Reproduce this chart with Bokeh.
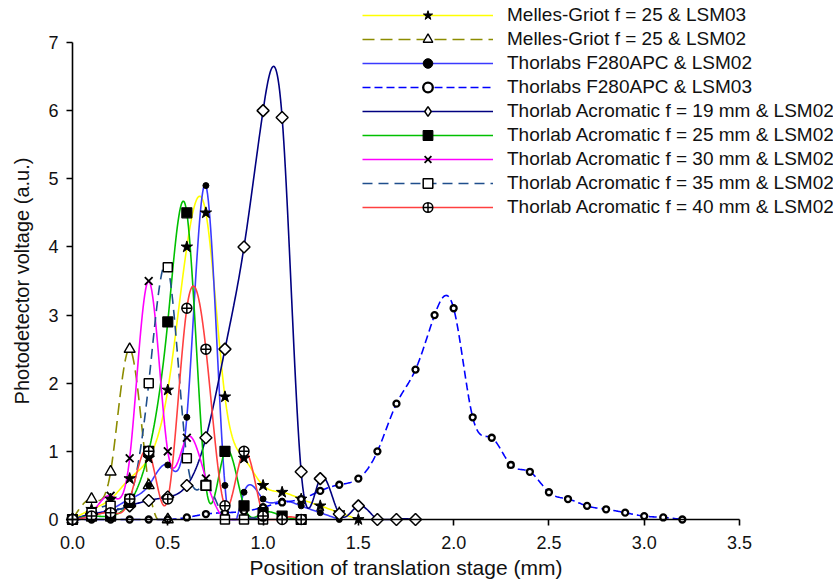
import numpy as np
from bokeh.plotting import figure
from bokeh.models import Range1d, FixedTicker, PrintfTickFormatter, Legend, LegendItem
from bokeh.embed import file_html
from bokeh.resources import INLINE

# ---------------- data ----------------
x_mg03 = [0.0, 0.1, 0.2, 0.3, 0.4, 0.5, 0.6, 0.7, 0.8, 0.9, 1.0, 1.1, 1.2, 1.3, 1.4, 1.5]
y_mg03 = [0.0, 0.15, 0.3, 0.6, 0.9, 1.9, 4.0, 4.5, 1.8, 0.9, 0.5, 0.4, 0.3, 0.2, 0.1, 0.0]

x_mg02 = [0.0, 0.1, 0.2, 0.3, 0.4, 0.5]
y_mg02 = [0.0, 0.3, 0.7, 2.5, 0.5, 0.0]

x_f280_02 = [0.0, 0.1, 0.2, 0.3, 0.4, 0.5, 0.6, 0.7, 0.8, 0.9, 1.0, 1.1, 1.2, 1.3, 1.4]
y_f280_02 = [0.0, 0.08, 0.15, 0.3, 0.5, 0.8, 1.5, 4.9, 0.5, 0.4, 0.3, 0.27, 0.2, 0.1, 0.0]

x_f280_03 = [0.0, 0.1, 0.2, 0.3, 0.4, 0.5, 0.6, 0.7, 0.8, 0.9, 1.0, 1.1, 1.2, 1.3, 1.4, 1.5,
             1.6, 1.7, 1.8, 1.9, 2.0, 2.1, 2.2, 2.3, 2.4, 2.5, 2.6, 2.7, 2.8, 2.9, 3.0, 3.1, 3.2]
y_f280_03 = [0.0, 0.0, 0.0, 0.0, 0.0, 0.0, 0.03, 0.08, 0.1, 0.12, 0.18, 0.25, 0.3, 0.42, 0.51, 0.6,
             1.0, 1.7, 2.2, 3.0, 3.1, 1.5, 1.2, 0.8, 0.7, 0.4, 0.3, 0.2, 0.15, 0.1, 0.05, 0.03, 0.0]

x_a19 = [0.0, 0.1, 0.2, 0.3, 0.4, 0.5, 0.6, 0.7, 0.8, 0.9, 1.0, 1.1, 1.2, 1.3, 1.4, 1.5, 1.6, 1.7, 1.8]
y_a19 = [0.0, 0.08, 0.12, 0.2, 0.28, 0.33, 0.5, 1.2, 2.5, 4.0, 6.0, 5.9, 0.7, 0.6, 0.08, 0.2, 0.0, 0.0, 0.0]

x_a25 = [0.0, 0.1, 0.2, 0.3, 0.4, 0.5, 0.6, 0.7, 0.8, 0.9, 1.0, 1.1, 1.2]
y_a25 = [0.0, 0.05, 0.05, 0.25, 1.0, 2.9, 4.5, 0.5, 1.0, 0.2, 0.1, 0.05, 0.0]

x_a30 = [0.0, 0.1, 0.2, 0.3, 0.4, 0.5, 0.6, 0.7, 0.8, 0.9, 1.0]
y_a30 = [0.0, 0.1, 0.35, 0.9, 3.5, 1.0, 1.2, 0.6, 0.0, 0.0, 0.0]

x_a35 = [0.0, 0.1, 0.2, 0.3, 0.4, 0.5, 0.6, 0.7, 0.8, 0.9, 1.0]
y_a35 = [0.0, 0.1, 0.2, 0.3, 2.0, 3.7, 0.9, 0.5, 0.0, 0.0, 0.0]

x_a40 = [0.0, 0.1, 0.2, 0.3, 0.4, 0.5, 0.6, 0.7, 0.8, 0.9, 1.0, 1.1, 1.2]
y_a40 = [0.0, 0.05, 0.1, 0.3, 1.0, 0.3, 3.1, 2.5, 0.2, 1.0, 0.05, 0.0, 0.0]

labels = [
    "Melles-Griot f = 25 & LSM03",
    "Melles-Griot f = 25 & LSM02",
    "Thorlabs F280APC & LSM02",
    "Thorlabs F280APC & LSM03",
    "Thorlab Acromatic f = 19 mm & LSM02",
    "Thorlab Acromatic f = 25 mm & LSM02",
    "Thorlab Acromatic f = 30 mm & LSM02",
    "Thorlab Acromatic f = 35 mm & LSM02",
    "Thorlab Acromatic f = 40 mm & LSM02",
]
x_ticks = [0.0, 0.5, 1.0, 1.5, 2.0, 2.5, 3.0, 3.5]
y_ticks = [0, 1, 2, 3, 4, 5, 6, 7]


def natural_spline(xs, ys, n=24):
    """Natural cubic spline through the data points (drawing style of the curve);
    like the original, the curve is not drawn below the x axis."""
    x = np.asarray(xs, float)
    y = np.asarray(ys, float)
    N = len(x)
    h = np.diff(x)
    A = np.zeros((N, N))
    b = np.zeros(N)
    A[0, 0] = 1.0
    A[-1, -1] = 1.0
    for i in range(1, N - 1):
        A[i, i - 1] = h[i - 1]
        A[i, i] = 2 * (h[i - 1] + h[i])
        A[i, i + 1] = h[i]
        b[i] = 3 * ((y[i + 1] - y[i]) / h[i] - (y[i] - y[i - 1]) / h[i - 1])
    c = np.linalg.solve(A, b)
    px, py = [], []
    for i in range(N - 1):
        bi = (y[i + 1] - y[i]) / h[i] - h[i] * (2 * c[i] + c[i + 1]) / 3
        di = (c[i + 1] - c[i]) / (3 * h[i])
        t = np.linspace(0, h[i], n, endpoint=(i == N - 2))
        px.extend(x[i] + t)
        py.extend(y[i] + bi * t + c[i] * t ** 2 + di * t ** 3)
    return px, list(np.maximum(np.array(py), 0.0))


series = [
    dict(x=x_mg03, y=y_mg03, color="#FFFF00", dash="solid",
         marker="star", size=12, fill="black", lw=1.0, angle=0, legend_marker=None),
    dict(x=x_mg02, y=y_mg02, color="#8C8C00", dash="12 6",
         marker="triangle", size=11, fill="white", lw=1.4, angle=0, legend_marker=None),
    dict(x=x_f280_02, y=y_f280_02, color="#3A3AFF", dash="solid",
         marker="circle", size=6, fill="black", lw=1.0, angle=0, legend_marker=None),
    dict(x=x_f280_03, y=y_f280_03, color="#0000FF", dash="8 4",
         marker="circle", size=6, fill="white", lw=2.3, angle=0, legend_marker=None),
    dict(x=x_a19, y=y_a19, color="#000080", dash="solid",
         marker="square", size=8.5, fill="white", lw=1.5, angle=np.pi / 4, legend_marker="diamond"),
    dict(x=x_a25, y=y_a25, color="#00C000", dash="solid",
         marker="square", size=10, fill="black", lw=1.2, angle=0, legend_marker=None),
    dict(x=x_a30, y=y_a30, color="#FF00FF", dash="solid",
         marker="x", size=11, fill="black", lw=1.8, angle=0, legend_marker=None),
    dict(x=x_a35, y=y_a35, color="#1F4E8C", dash="10 6",
         marker="square", size=9, fill="white", lw=1.5, angle=0, legend_marker=None),
    dict(x=x_a40, y=y_a40, color="#FF4040", dash="solid",
         marker="circle_cross", size=10, fill="white", lw=1.5, angle=0, legend_marker=None),
]

W, H = 833, 582
p = figure(width=W, height=H, output_backend="svg", toolbar_location=None,
           x_range=Range1d(-0.3778, 3.9933), y_range=Range1d(-0.9245, 7.6163),
           min_border_left=0, min_border_right=0, min_border_top=0, min_border_bottom=0)
p.outline_line_color = None
p.grid.visible = False
p.background_fill_color = "white"

line_renderers = []
for s in series:
    sx, sy = natural_spline(s["x"], s["y"])
    r = p.line(sx, sy, line_color=s["color"], line_width=1.6, line_dash=s["dash"])
    line_renderers.append(r)

marker_renderers = []
legend_markers = []
for s in series:
    lr = None
    if s["legend_marker"] is not None:
        # legend sample of the diamond; in the plot it sits hidden under the
        # white-filled rotated squares drawn just after it
        lr = p.scatter(s["x"], s["y"], marker=s["legend_marker"], size=10,
                       fill_color=s["fill"], line_color="black", line_width=s["lw"])
    r = p.scatter(s["x"], s["y"], marker=s["marker"], size=s["size"], angle=s["angle"],
                  fill_color=s["fill"], line_color="black", line_width=s["lw"])
    marker_renderers.append(r)
    legend_markers.append(lr if lr is not None else r)

items = [LegendItem(label=lab, renderers=[lr, mr])
         for lab, lr, mr in zip(labels, line_renderers, legend_markers)]
legend = Legend(items=items, location=(362, 363), orientation="vertical")
legend.border_line_color = None
legend.background_fill_alpha = 0
legend.padding = 0
legend.margin = 0
legend.spacing = 0
legend.glyph_width = 131
legend.glyph_height = 24
legend.label_height = 24
legend.label_standoff = 14
legend.label_text_font = "Liberation Sans"
legend.label_text_font_size = "19px"
legend.label_text_color = "#111111"
p.add_layout(legend, "center")

for ax in (p.xaxis[0], p.yaxis[0]):
    ax.fixed_location = 0
    ax.axis_line_color = "black"
    ax.axis_line_width = 1.6
    ax.major_tick_line_color = "black"
    ax.major_tick_line_width = 1.6
    ax.major_tick_out = 6
    ax.major_tick_in = 0
    ax.minor_tick_line_color = None
    ax.major_label_text_font = "Liberation Sans"
    ax.major_label_text_font_size = "18px"
    ax.major_label_text_color = "#111111"
    ax.axis_label_text_font = "Liberation Sans"
    ax.axis_label_text_font_style = "normal"
    ax.axis_label_text_color = "#111111"

p.xaxis[0].bounds = (0, 3.5)
p.yaxis[0].bounds = (0, 7)
p.xaxis[0].ticker = FixedTicker(ticks=x_ticks)
p.yaxis[0].ticker = FixedTicker(ticks=y_ticks)
p.xaxis[0].formatter = PrintfTickFormatter(format="%.1f")
p.yaxis[0].formatter = PrintfTickFormatter(format="%d")
p.xaxis[0].axis_label = "Position of translation stage (mm)"
p.yaxis[0].axis_label = "Photodetector voltage (a.u.)"
p.xaxis[0].axis_label_text_font_size = "21px"
p.yaxis[0].axis_label_text_font_size = "20px"
p.xaxis[0].major_label_standoff = 10
p.yaxis[0].major_label_standoff = 8
p.xaxis[0].axis_label_standoff = 4
p.yaxis[0].axis_label_standoff = 12

open("out.html", "w").write(file_html(p, INLINE))
